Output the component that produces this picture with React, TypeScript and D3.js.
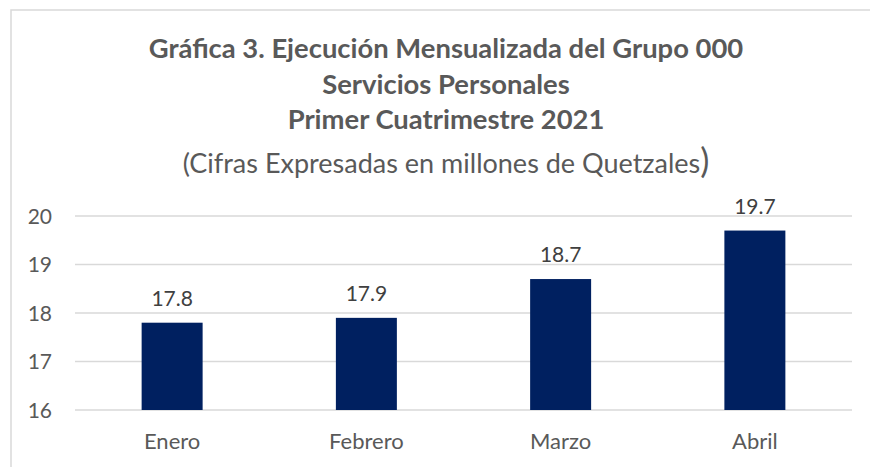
import React from 'react';
import * as d3 from 'd3';

const months = ['Enero', 'Febrero', 'Marzo', 'Abril'];
const values = [17.8, 17.9, 18.7, 19.7];
const yTicks = [16, 17, 18, 19, 20];
const titleLines = [
  'Gráfica 3. Ejecución Mensualizada del Grupo 000',
  'Servicios Personales',
  'Primer Cuatrimestre 2021',
];
const subtitle = '(Cifras Expresadas en millones de Quetzales';

const W = 870;
const H = 467;
const plot = { left: 75, right: 852, top: 216, bottom: 410 };
const font = 'Lato, "Open Sans", sans-serif';
const textColor = '#595959';
const barColor = '#002060';
const gridColor = '#d9d9d9';

export default function App() {
  const x = d3.scaleBand<string>().domain(months).range([plot.left, plot.right]);
  const y = d3.scaleLinear().domain([16, 20]).range([plot.bottom, plot.top]);
  const barW = x.bandwidth() * 0.314;

  return (
    <svg
      width={W}
      height={H}
      style={{ position: 'absolute', left: 0, top: 0, background: '#fff' }}
      fontFamily={font}
    >
      <rect x={0} y={0} width={W} height={H} fill="#fff" />
      {/* chart border (only top and left visible) */}
      <path d={`M11,${H} L11,10 L${W},10`} fill="none" stroke={gridColor} strokeWidth={1.5} />

      {/* title */}
      {titleLines.map((t, i) => (
        <text
          key={t}
          x={446}
          y={58 + i * 35.5}
          textAnchor="middle"
          fontWeight="bold"
          fontSize={27.4}
          fill={textColor}
        >
          {t}
        </text>
      ))}
      <text x={446} y={173} textAnchor="middle" fontSize={27} fill={textColor}>
        {subtitle}
        <tspan fontSize={34}>)</tspan>
      </text>

      {/* gridlines */}
      {yTicks.map((t) => (
        <line
          key={t}
          x1={plot.left}
          x2={plot.right}
          y1={y(t)}
          y2={y(t)}
          stroke={gridColor}
          strokeWidth={1.5}
        />
      ))}
      {yTicks.map((t) => (
        <text
          key={'l' + t}
          x={52}
          y={y(t)}
          dy="0.36em"
          textAnchor="end"
          fontSize={21}
          fill={textColor}
        >
          {t}
        </text>
      ))}

      {/* bars */}
      {months.map((m, i) => {
        const cx = x(m)! + x.bandwidth() / 2;
        return (
          <g key={m}>
            <rect
              x={cx - barW / 2}
              y={y(values[i])}
              width={barW}
              height={y(16) - y(values[i])}
              fill={barColor}
            />
            <text
              x={cx}
              y={y(values[i]) - 17}
              textAnchor="middle"
              fontSize={21}
              fill="#404040"
            >
              {values[i].toFixed(1)}
            </text>
            <text x={cx} y={449} textAnchor="middle" fontSize={22} fill={textColor}>
              {m}
            </text>
          </g>
        );
      })}
    </svg>
  );
}
